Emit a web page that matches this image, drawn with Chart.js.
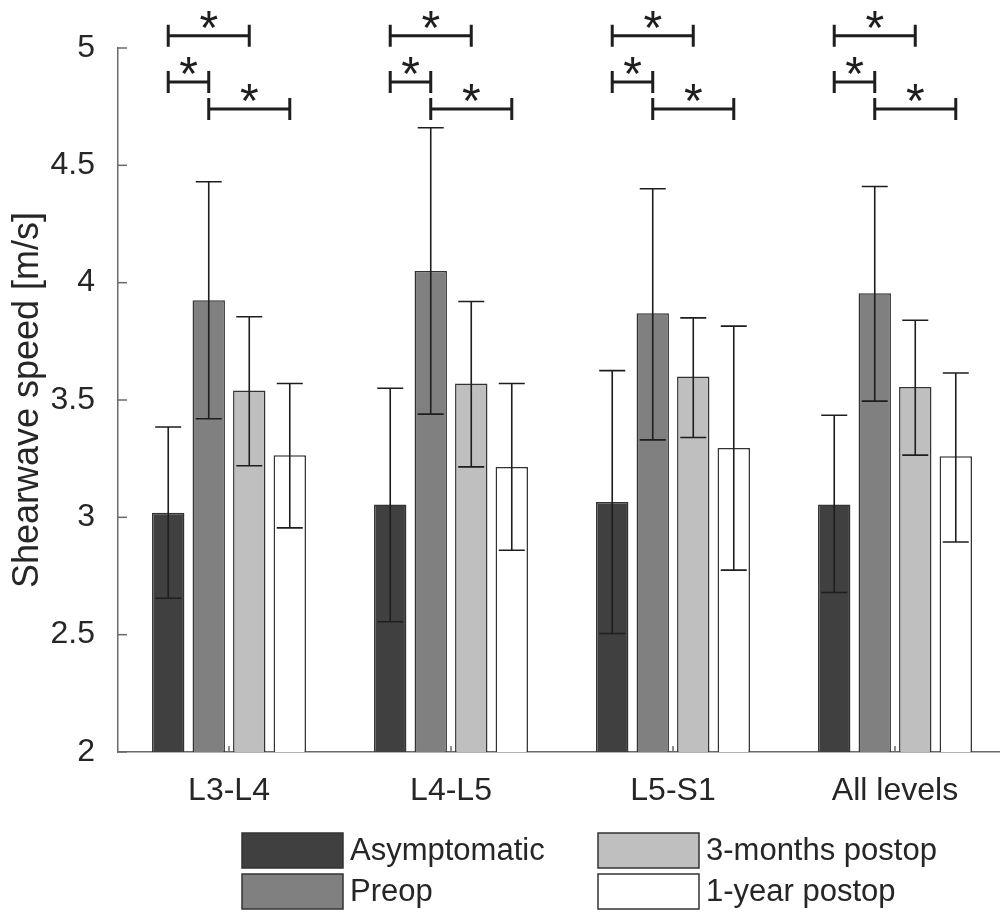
<!DOCTYPE html>
<html>
<head>
<meta charset="utf-8">
<script src="https://cdn.jsdelivr.net/npm/chart.js@4/dist/chart.umd.min.js"></script>
<style>
  html, body { margin: 0; padding: 0; background: #fff; overflow: hidden; }
  canvas { display: block; }
</style>
</head>
<body>
<canvas id="myChart" width="1010" height="913"></canvas>
<script>
// data
var levels = ["L3-L4", "L4-L5", "L5-S1", "All levels"];
var groups = ["Asymptomatic", "Preop", "3-months postop", "1-year postop"];

var speed_asym  = [3.02, 3.055, 3.065, 3.055];
var speed_preop = [3.925, 4.05, 3.87, 3.955];
var speed_3m    = [3.54, 3.57, 3.60, 3.555];
var speed_1y    = [3.265, 3.215, 3.295, 3.26];

var hi_asym  = [3.385, 3.55, 3.625, 3.435];
var lo_asym  = [2.655, 2.555, 2.505, 2.68];
var hi_preop = [4.43, 4.66, 4.40, 4.41];
var lo_preop = [3.42, 3.44, 3.33, 3.495];
var hi_3m    = [3.855, 3.92, 3.85, 3.84];
var lo_3m    = [3.22, 3.215, 3.34, 3.265];
var hi_1y    = [3.57, 3.57, 3.815, 3.615];
var lo_1y    = [2.955, 2.86, 2.775, 2.895];

var yTicks = [2, 2.5, 3, 3.5, 4, 4.5, 5];

// significance brackets: [from group, to group, height]
var sigPairs = [[0, 2], [0, 1], [1, 3]];
var sigLevel = [5.052, 4.855, 4.74];

var colors = ["#404040", "#808080", "#bfbfbf", "#ffffff"];
var txt = "#262626";
var fontFam = "'Liberation Sans', Arial, sans-serif";

var errs = [[lo_asym, hi_asym], [lo_preop, hi_preop], [lo_3m, hi_3m], [lo_1y, hi_1y]];

var extras = {
  id: 'extras',
  afterDatasetsDraw: function(chart) {
    var ctx = chart.ctx;
    var y = chart.scales.y, x = chart.scales.x;
    var area = chart.chartArea;
    ctx.save();
    // error bars
    ctx.strokeStyle = "#1e1e1e";
    ctx.lineWidth = 1.6;
    for (var d = 0; d < 4; d++) {
      var meta = chart.getDatasetMeta(d);
      meta.data.forEach(function(bar, i) {
        var yt = y.getPixelForValue(errs[d][1][i]);
        var yb = y.getPixelForValue(errs[d][0][i]);
        ctx.beginPath();
        ctx.moveTo(bar.x, yt); ctx.lineTo(bar.x, yb);
        ctx.moveTo(bar.x - 13, yt); ctx.lineTo(bar.x + 13, yt);
        ctx.moveTo(bar.x - 13, yb); ctx.lineTo(bar.x + 13, yb);
        ctx.stroke();
      });
    }
    // inward ticks
    ctx.strokeStyle = "#6a6a6a";
    ctx.lineWidth = 1.5;
    yTicks.forEach(function(v) {
      var py = y.getPixelForValue(v);
      ctx.beginPath();
      ctx.moveTo(area.left, py); ctx.lineTo(area.left + 9, py);
      ctx.stroke();
    });
    levels.forEach(function(l, i) {
      var px = x.getPixelForValue(i);
      ctx.beginPath();
      ctx.moveTo(px, area.bottom); ctx.lineTo(px, area.bottom - 6);
      ctx.stroke();
    });
    // significance brackets
    ctx.strokeStyle = "#1e1e1e";
    ctx.fillStyle = "#1e1e1e";
    ctx.lineWidth = 3;
    ctx.font = "48px " + fontFam;
    ctx.textAlign = "center";
    ctx.textBaseline = "alphabetic";
    for (var i = 0; i < levels.length; i++) {
      sigPairs.forEach(function(p, k) {
        var x1 = chart.getDatasetMeta(p[0]).data[i].x;
        var x2 = chart.getDatasetMeta(p[1]).data[i].x;
        var py = y.getPixelForValue(sigLevel[k]);
        ctx.beginPath();
        ctx.moveTo(x1, py); ctx.lineTo(x2, py);
        ctx.moveTo(x1, py - 11); ctx.lineTo(x1, py + 11);
        ctx.moveTo(x2, py - 11); ctx.lineTo(x2, py + 11);
        ctx.stroke();
        ctx.fillText("*", (x1 + x2) / 2, py + 8);
      });
    }
    ctx.restore();
  },
  afterDraw: function(chart) {
    var ctx = chart.ctx;
    ctx.save();
    ctx.font = "31px " + fontFam;
    ctx.textAlign = "left";
    ctx.textBaseline = "middle";
    var cols = [242, 598], rows = [833, 874];
    chart.data.datasets.forEach(function(ds, i) {
      var bx = cols[Math.floor(i / 2)], by = rows[i % 2];
      ctx.fillStyle = ds.backgroundColor;
      ctx.fillRect(bx, by, 101, 35);
      ctx.strokeStyle = "#333";
      ctx.lineWidth = 1.5;
      ctx.strokeRect(bx, by, 101, 35);
      ctx.fillStyle = txt;
      ctx.fillText(ds.label, bx + 108, by + 18);
    });
    ctx.restore();
  }
};

new Chart(document.getElementById("myChart"), {
  type: 'bar',
  data: {
    labels: levels,
    datasets: [
      { label: groups[0], data: speed_asym,  backgroundColor: colors[0] },
      { label: groups[1], data: speed_preop, backgroundColor: colors[1] },
      { label: groups[2], data: speed_3m,    backgroundColor: colors[2] },
      { label: groups[3], data: speed_1y,    backgroundColor: colors[3] }
    ].map(function(d) {
      d.borderColor = "#333";
      d.borderWidth = 1.5;
      d.categoryPercentage = 0.73;
      d.barPercentage = 0.8;
      return d;
    })
  },
  options: {
    responsive: false,
    animation: false,
    devicePixelRatio: 1,
    layout: { padding: { top: 48, right: 4, left: 0, bottom: 0 } },
    plugins: {
      legend: { display: false },
      tooltip: { enabled: false }
    },
    scales: {
      x: {
        grid: { display: false },
        border: { color: "#6a6a6a", width: 1.5 },
        ticks: { color: txt, font: { size: 32, family: fontFam }, padding: 12 },
        afterFit: function(s) { s.height = 161; }
      },
      y: {
        min: 2, max: 5,
        grid: { display: false },
        border: { color: "#6a6a6a", width: 1.5 },
        ticks: {
          stepSize: 0.5, color: txt, font: { size: 32, family: fontFam }, padding: 15,
          callback: function(v) { return String(v); }
        },
        title: {
          display: true, text: "Shearwave speed [m/s]", color: txt,
          font: { size: 36, family: fontFam }, padding: { top: 6, bottom: 0 }
        },
        afterFit: function(s) { s.width = 118; }
      }
    }
  },
  plugins: [extras]
});
</script>
</body>
</html>
